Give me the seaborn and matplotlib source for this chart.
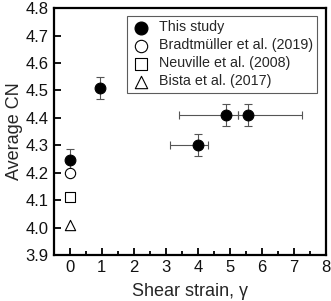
import matplotlib
matplotlib.use("Agg")
import matplotlib.pyplot as plt
import seaborn as sns
import pandas as pd
import numpy as np
from matplotlib.ticker import MultipleLocator

# This study
study_strain = [0.0, 0.95, 4.0, 4.88, 5.55]
study_cn = [4.245, 4.51, 4.30, 4.41, 4.41]
study_cn_err = [0.04, 0.04, 0.04, 0.04, 0.04]
study_strain_lo = [0.0, 0.0, 0.88, 1.48, 0.30]
study_strain_hi = [0.0, 0.0, 0.32, 0.37, 1.71]

# literature values at zero strain
lit_labels = ["Bradtmüller et al. (2019)", "Neuville et al. (2008)", "Bista et al. (2017)"]
lit_strain = [0.0, 0.0, 0.0]
lit_cn = [4.20, 4.11, 4.01]
lit_markers = ["o", "s", "^"]

sns.set_style("ticks")
plt.rcParams["font.family"] = ["Liberation Sans", "DejaVu Sans"]

fig = plt.figure(figsize=(3.31, 3.01), dpi=100)
ax = fig.add_axes([0.162, 0.153, 0.823, 0.82])

ax.errorbar(study_strain, study_cn, yerr=study_cn_err,
            xerr=[study_strain_lo, study_strain_hi], fmt="none",
            ecolor="#555555", elinewidth=0.8, capsize=3, capthick=0.8, zorder=2)

df = pd.DataFrame({"strain": study_strain, "cn": study_cn})
sns.scatterplot(data=df, x="strain", y="cn", ax=ax, color="black", marker="o",
                s=60, edgecolor="black", linewidth=0.8, label="This study", zorder=3)

for lab, xv, yv, m in zip(lit_labels, lit_strain, lit_cn, lit_markers):
    sns.scatterplot(x=[xv], y=[yv], ax=ax, marker=m, s=55, facecolor="white",
                    edgecolor="black", linewidth=0.8, label=lab, zorder=3)

ax.set_xlim(-0.5, 8)
ax.set_ylim(3.9, 4.8)
ax.xaxis.set_major_locator(MultipleLocator(1))
ax.xaxis.set_minor_locator(MultipleLocator(0.5))
ax.yaxis.set_major_locator(MultipleLocator(0.1))
ax.yaxis.set_major_formatter(matplotlib.ticker.FormatStrFormatter("%.1f"))
ax.tick_params(which="both", direction="in", top=False, right=False,
               labelsize=12, width=1.3, color="black", labelcolor="#111111")
ax.tick_params(which="major", length=5)
ax.tick_params(which="minor", length=3)
for sp in ax.spines.values():
    sp.set_linewidth(1.6)
    sp.set_color("black")

ax.set_xlabel("Shear strain, γ", fontsize=13, labelpad=6)
ax.set_ylabel("Average CN", fontsize=13, labelpad=2)

leg = ax.legend(loc="upper right", bbox_to_anchor=(0.967, 0.968), fontsize=10.3,
                frameon=True, fancybox=False, edgecolor="#333333",
                handletextpad=0.5, borderpad=0.3, labelspacing=0.28, handlelength=1.4,
                markerscale=1.2, borderaxespad=0)
leg.get_frame().set_linewidth(0.8)

fig.savefig("out.png", dpi=100)
